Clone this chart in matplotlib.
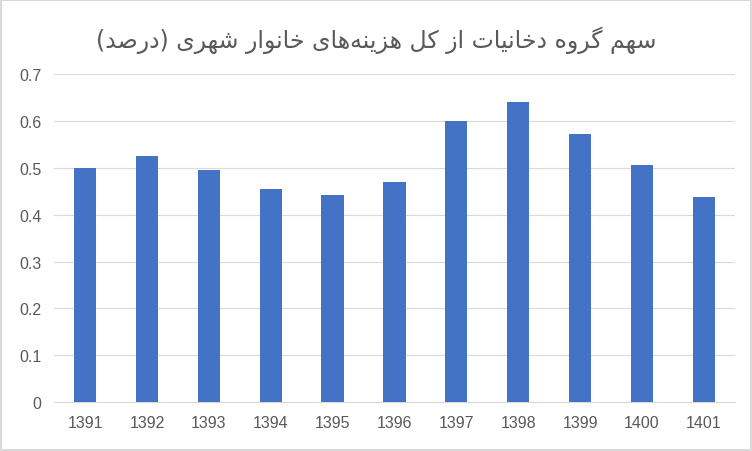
import matplotlib
matplotlib.use("Agg")
import matplotlib.pyplot as plt

years = ["1391", "1392", "1393", "1394", "1395", "1396", "1397", "1398", "1399", "1400", "1401"]
share = [0.50, 0.525, 0.495, 0.455, 0.443, 0.47, 0.60, 0.64, 0.572, 0.505, 0.437]
title = "سهم گروه دخانیات از کل هزینه\u200cهای خانوار شهری (درصد)"

# presentation forms: (isolated, final, initial, medial); right-joining letters have only two
FORMS = {
    "ا": (0xFE8D, 0xFE8E), "د": (0xFEA9, 0xFEAA), "ر": (0xFEAD, 0xFEAE),
    "ز": (0xFEAF, 0xFEB0), "و": (0xFEED, 0xFEEE),
    "ت": (0xFE95, 0xFE96, 0xFE97, 0xFE98), "خ": (0xFEA5, 0xFEA6, 0xFEA7, 0xFEA8),
    "س": (0xFEB1, 0xFEB2, 0xFEB3, 0xFEB4), "ش": (0xFEB5, 0xFEB6, 0xFEB7, 0xFEB8),
    "ص": (0xFEB9, 0xFEBA, 0xFEBB, 0xFEBC), "ل": (0xFEDD, 0xFEDE, 0xFEDF, 0xFEE0),
    "م": (0xFEE1, 0xFEE2, 0xFEE3, 0xFEE4), "ن": (0xFEE5, 0xFEE6, 0xFEE7, 0xFEE8),
    "ه": (0xFEE9, 0xFEEA, 0xFEEB, 0xFEEC), "ک": (0xFB8E, 0xFB8F, 0xFB90, 0xFB91),
    "گ": (0xFB92, 0xFB93, 0xFB94, 0xFB95), "ی": (0xFBFC, 0xFBFD, 0xFBFE, 0xFBFF),
}


def shape(s):
    out = []
    for i, c in enumerate(s):
        if c == "\u200c":
            continue
        if c not in FORMS:
            out.append(c)
            continue
        prev = s[i - 1] if i > 0 else ""
        nxt = s[i + 1] if i + 1 < len(s) else ""
        jp = prev in FORMS and len(FORMS[prev]) == 4
        jn = len(FORMS[c]) == 4 and nxt in FORMS
        f = FORMS[c]
        if jp and jn:
            out.append(chr(f[3]))
        elif jp:
            out.append(chr(f[1]))
        elif jn:
            out.append(chr(f[2]))
        else:
            out.append(chr(f[0]))
    txt = "".join(reversed(out))
    return txt.translate(str.maketrans("()", ")("))


plt.rcParams["font.family"] = ["DejaVu Sans"]
fig = plt.figure(figsize=(7.52, 4.52), dpi=100)
fig.patch.set_edgecolor("#d9d9d9")
fig.patch.set_linewidth(1.5)
ax = fig.add_axes([0.072, 0.108, 0.905, 0.726])
ax.bar(range(len(years)), share, width=0.36, color="#4472C4", zorder=3)
ax.set_xticks(range(len(years)))
ax.set_xticklabels(years, family=["Liberation Sans", "DejaVu Sans"])
ax.set_ylim(0, 0.7)
ax.set_xlim(-0.5, len(years) - 0.5)
ax.set_yticks([i / 10 for i in range(8)])
ax.set_yticklabels(["0"] + ["%.1f" % (i / 10) for i in range(1, 8)], family=["Liberation Sans", "DejaVu Sans"])
ax.grid(axis="y", color="#d9d9d9", linewidth=0.8, zorder=0)
for sp in ["top", "right", "left"]:
    ax.spines[sp].set_visible(False)
ax.spines["bottom"].set_color("#d9d9d9")
ax.tick_params(length=0, labelsize=11.5, colors="#595959", pad=9)
fig.text(0.5, 0.91, shape(title), ha="center", va="center", fontsize=17, color="#595959")
fig.savefig("out.png", dpi=100, edgecolor=fig.get_edgecolor())
